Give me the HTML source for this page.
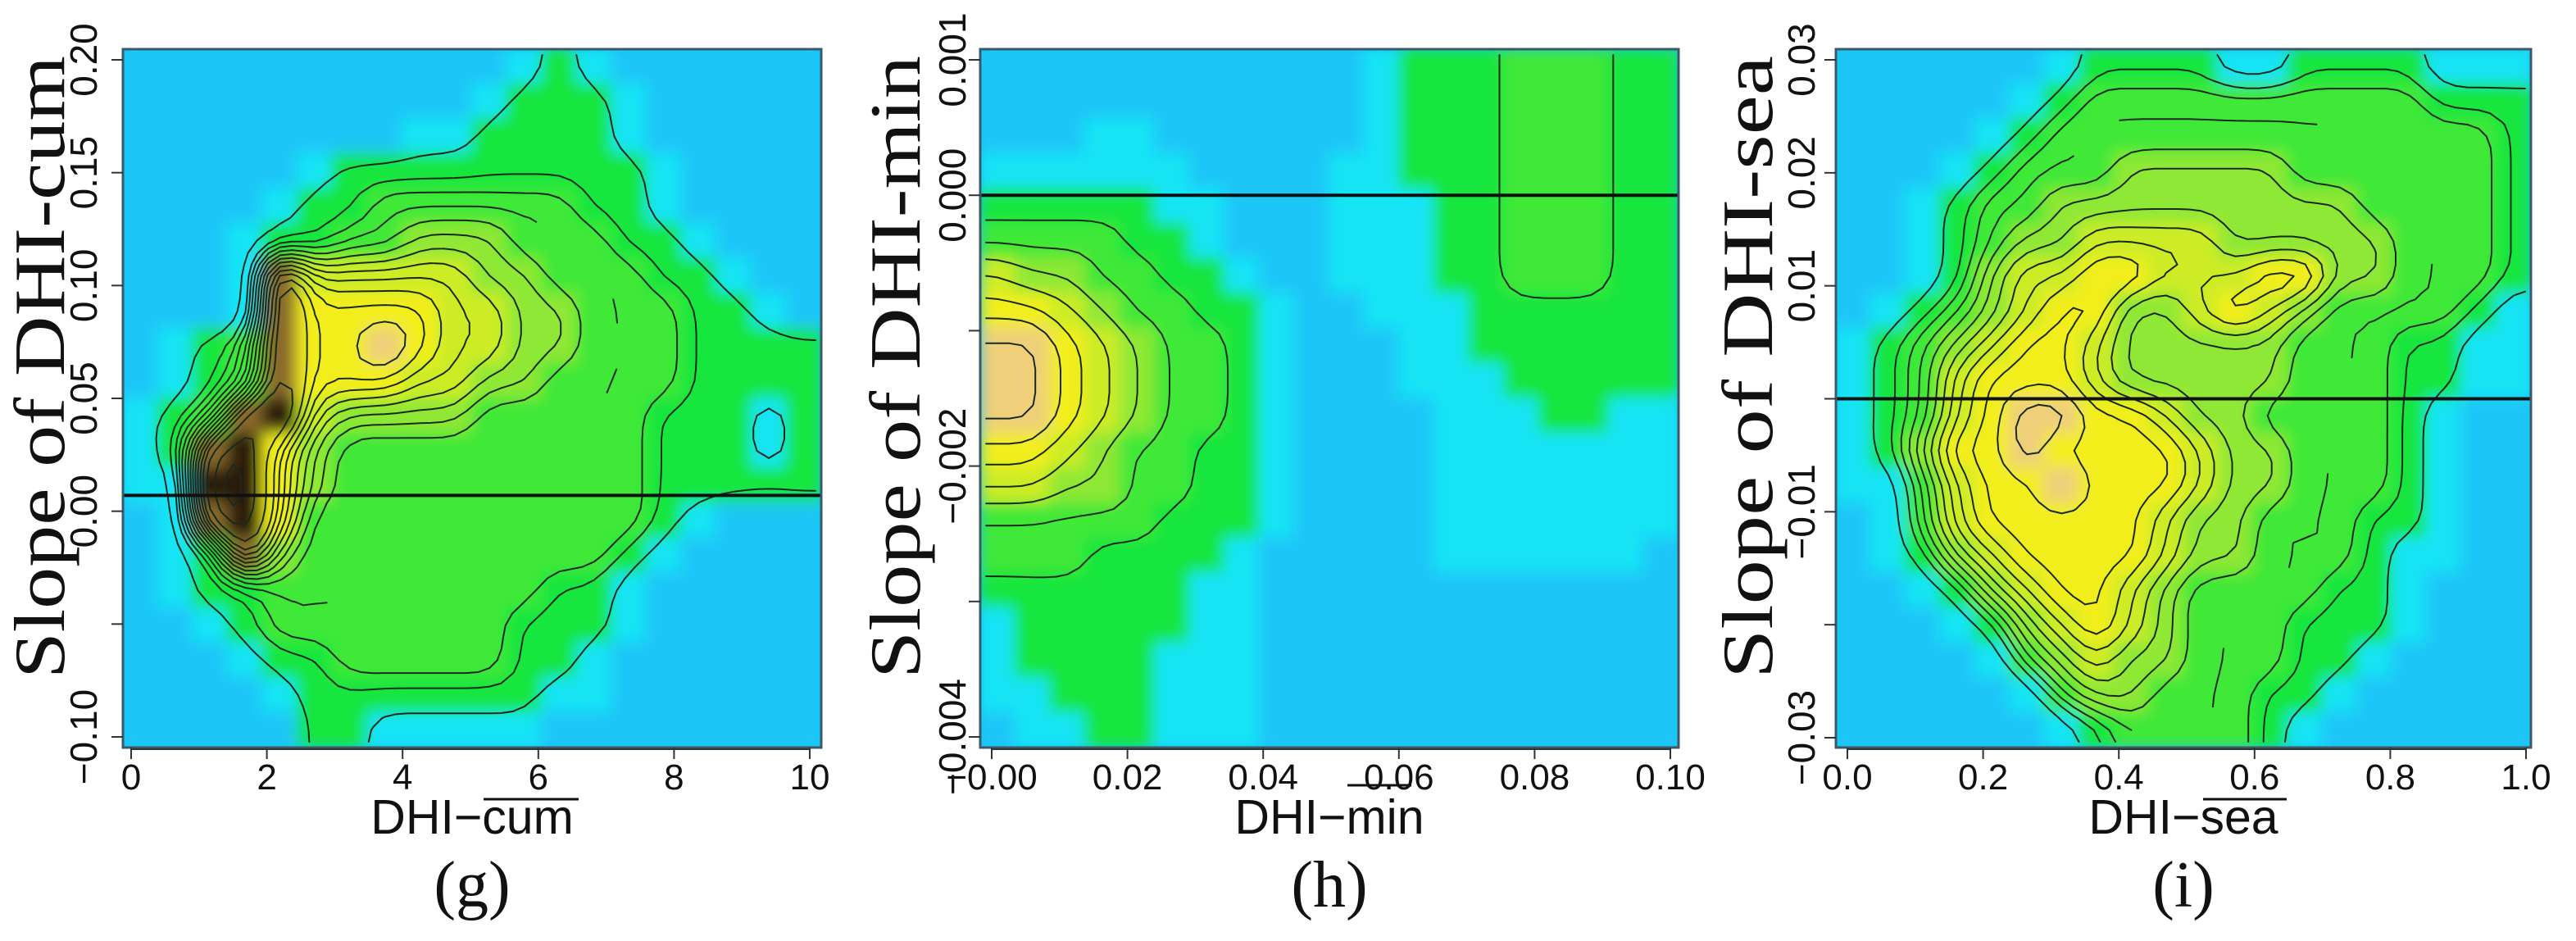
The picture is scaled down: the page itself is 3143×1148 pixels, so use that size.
<!DOCTYPE html>
<html><head><meta charset="utf-8"><style>
html,body{margin:0;padding:0;background:#fff;}
svg{display:block;}
</style></head><body>
<svg id="fig" width="3143" height="1148" viewBox="0 0 3143 1148" xmlns="http://www.w3.org/2000/svg">
<defs>
<filter id="blur" x="-5%" y="-5%" width="110%" height="110%"><feGaussianBlur stdDeviation="9"/></filter>
</defs>
</svg>
<script>
// ---------- data ----------
const palette = ['#1ac6f7','#14e4f5','#14e63c','#3fe838','#8fe836','#cdec28','#f2ee1c','#efcf7a','#8a6a2a','#2a1a08'];

// panel g: density class per cell, rows top->bottom
const gridG = [
"00000000000121000000",
"00000000001222100000",
"00000000112222100000",
"00000122222222210000",
"00001223333332210000",
"00012233444333221000",
"00018555554433322100",
"00018666655443332210",
"01238667655443332222",
"01238666554433332222",
"12389544443333322212",
"12896433333333322212",
"11996433333333322222",
"01896333333333321000",
"01284333333333210000",
"01223333333322100000",
"00123333333222100000",
"00012233333221000000",
"00001222222211000000",
"00000221111100000000"];
const xTicksG = [0,2,4,6,8,10];
const xTickLabelsG = ['0','2','4','6','8','10'];
const yTicksG = [0.20,0.15,0.10,0.05,0.00,-0.05,-0.10];
const yTickLabelsG = ['0.20','0.15','0.10','0.05','0.00','','\u22120.10'];
const levelsG = [1.5,2.2,2.6,3.0,3.4,3.8,4.2,4.6,5.0,5.4,5.8,6.2,6.6,7.2,8.0,8.6];

// panel h
const gridH = [
"00000000000122233322",
"00000000000122233322",
"00011000000122233322",
"11111100001122233322",
"22222110001112233322",
"33332210001112233322",
"54433221001112233322",
"66543322100111222222",
"77654332100011222222",
"77654332100011122222",
"77654332100001112211",
"66543322100001111111",
"55443322100001111111",
"33333222100001111111",
"33322221000001111110",
"22222211000000000000",
"12222211000000000000",
"12222111000000000000",
"11222111000000000000",
"01122111000000000000"];
const xTicksH = [0,0.02,0.04,0.06,0.08,0.10];
const xTickLabelsH = ['\u22120.00','0.02','0.04','0.06','0.08','0.10'];
const yTicksH = [0.001,0.000,-0.001,-0.002,-0.003,-0.004];
const yTickLabelsH = ['0.001','0.000','','\u22120.002','','\u22120.004'];
const levelsH = [2.4,3.2,4.0,4.8,5.6,6.2,6.8,7.2];

// panel i
const gridI = [
"00000012222112222111",
"00000123333333333222",
"00001233333333333332",
"00012333444443333332",
"00123344444444433332",
"00123445555444443332",
"00124556655566443332",
"01234566445654333321",
"12345665444443332211",
"12356665444443332211",
"12356776654433332100",
"12466766665443332100",
"11356676665443332100",
"01356666654433322100",
"01245666654433321100",
"00124566543333221000",
"00012456543332221000",
"00001345443332210000",
"00000134433322100000",
"00000012333321000000"];
const xTicksI = [0,0.2,0.4,0.6,0.8,1.0];
const xTickLabelsI = ['0.0','0.2','0.4','0.6','0.8','1.0'];
const yTicksI = [0.03,0.02,0.01,0,-0.01,-0.02,-0.03];
const yTickLabelsI = ['0.03','0.02','0.01','','\u22120.01','','\u22120.03'];
const levelsI = [1.6,2.2,2.6,3.0,3.4,3.8,4.2,4.6,5.0,5.4,5.8,6.2,6.6];

const zeroLines = [0.007, 0.000, 0];

// ---------- drawing ----------
const NS = 'http://www.w3.org/2000/svg';
const svg = document.getElementById('fig');
function mk(tag, attrs, parent){
  const e = document.createElementNS(NS, tag);
  for (const k in attrs) e.setAttribute(k, attrs[k]);
  (parent||svg).appendChild(e);
  return e;
}
const panels = [
 {id:'g', grid:gridG, levels:levelsG, xt:xTicksG, xl:xTickLabelsG, yt:yTicksG, yl:yTickLabelsG, zero:zeroLines[0],
  left:150, right:1002, x0:[0,160], x1:[10,988], y0:[0.20,73], y1:[-0.10,899],
  ytitle:'Slope of DHI-cum', xtitle:'DHI\u2212cum', tag:'(g)', titleX:78, tickX:118},
 {id:'h', grid:gridH, levels:levelsH, xt:xTicksH, xl:xTickLabelsH, yt:yTicksH, yl:yTickLabelsH, zero:zeroLines[1],
  left:1196, right:2048, x0:[0,1210], x1:[0.10,2038], y0:[0.001,73], y1:[-0.004,899],
  ytitle:'Slope of DHI-min', xtitle:'DHI\u2212min', tag:'(h)', titleX:1122, tickX:1178},
 {id:'i', grid:gridI, levels:levelsI, xt:xTicksI, xl:xTickLabelsI, yt:yTicksI, yl:yTickLabelsI, zero:zeroLines[2],
  left:2240, right:3088, x0:[0,2254], x1:[1.0,3082], y0:[0.03,73], y1:[-0.03,900],
  ytitle:'Slope of DHI-sea', xtitle:'DHI\u2212sea', tag:'(i)', titleX:2162, tickX:2214}
];
const TOP = 60, BOTTOM = 912;

function smoothField(grid){
  const nr = grid.length, nc = grid[0].length, U = 3;
  const R = nr*U, C = nc*U;
  let f = [];
  for (let i = 0; i < R; i++) {
    const row = [];
    const gy = Math.min(Math.max((i+0.5)/U - 0.5, 0), nr-1);
    const r0 = Math.floor(gy), r1 = Math.min(r0+1, nr-1), ty = gy - r0;
    for (let j = 0; j < C; j++) {
      const gx = Math.min(Math.max((j+0.5)/U - 0.5, 0), nc-1);
      const c0 = Math.floor(gx), c1 = Math.min(c0+1, nc-1), tx = gx - c0;
      const v00 = +grid[r0][c0], v01 = +grid[r0][c1], v10 = +grid[r1][c0], v11 = +grid[r1][c1];
      row.push((v00*(1-tx)+v01*tx)*(1-ty) + (v10*(1-tx)+v11*tx)*ty);
    }
    f.push(row);
  }
  for (let pass = 0; pass < 2; pass++) {
    const g2 = [];
    for (let i = 0; i < R; i++) { const row = [];
      for (let j = 0; j < C; j++) { let s = 0, n = 0;
        for (let di = -1; di <= 1; di++) for (let dj = -1; dj <= 1; dj++) {
          const a = i+di, b = j+dj; if (a>=0 && a<R && b>=0 && b<C) { s += f[a][b]; n++; } }
        row.push(s/n); }
      g2.push(row); }
    f = g2;
  }
  return f;
}

panels.forEach(p => {
  const xs = v => p.x0[1] + (v - p.x0[0]) * (p.x1[1]-p.x0[1]) / (p.x1[0]-p.x0[0]);
  const ys = v => p.y0[1] + (v - p.y0[0]) * (p.y1[1]-p.y0[1]) / (p.y1[0]-p.y0[0]);
  const xinv = px => p.x0[0] + (px - p.x0[1]) * (p.x1[0]-p.x0[0]) / (p.x1[1]-p.x0[1]);
  const yinv = py => p.y0[0] + (py - p.y0[1]) * (p.y1[0]-p.y0[0]) / (p.y1[1]-p.y0[1]);
  const xmin = xinv(p.left), xmax = xinv(p.right), ymax = yinv(TOP), ymin = yinv(BOTTOM);

  const g = mk('g', {});
  
  

  const clipId = 'clip-' + p.id;
  const cp = mk('clipPath', {id: clipId}, svg.querySelector('defs'));
  mk('rect', {x:p.left, y:TOP, width:p.right-p.left, height:BOTTOM-TOP}, cp);

  const hm = mk('g', {'clip-path':'url(#'+clipId+')'}, g);
  
  
  mk('rect', {x:p.left, y:TOP, width:p.right-p.left, height:BOTTOM-TOP, fill:palette[0]}, hm);
  const inner = mk('g', {filter:'url(#blur)'}, hm);
  const nr = p.grid.length, nc = p.grid[0].length;
  for (let r = 0; r < nr; r++) {
    for (let c = 0; c < nc; c++) {
      const v = +p.grid[r][c];
      const xa = xmin + c*(xmax-xmin)/nc, xb = xmin + (c+1)*(xmax-xmin)/nc;
      const ya = ymax - r*(ymax-ymin)/nr, yb = ymax - (r+1)*(ymax-ymin)/nr;
      const cell = mk('rect', {x:xs(xa)-1, y:ys(ya)-1, width:xs(xb)-xs(xa)+2, height:ys(yb)-ys(ya)+2, fill:palette[v]}, inner);
      
      
    }
  }

  // contour lines via marching squares over smoothed field
  const f = smoothField(p.grid);
  const R = f.length, C = f[0].length;
  const px = j => xs(xmin + (j+0.5)*(xmax-xmin)/C);
  const py = i => ys(ymax - (i+0.5)*(ymax-ymin)/R);
  p.levels.forEach(L => {
    let d = '';
    for (let i = 0; i < R-1; i++) for (let j = 0; j < C-1; j++) {
      const a = f[i][j], b = f[i][j+1], c = f[i+1][j+1], e = f[i+1][j];
      const pts = [];
      if ((a-L)*(b-L) < 0) { const t = (L-a)/(b-a); pts.push([px(j)+t*(px(j+1)-px(j)), py(i)]); }
      if ((b-L)*(c-L) < 0) { const t = (L-b)/(c-b); pts.push([px(j+1), py(i)+t*(py(i+1)-py(i))]); }
      if ((e-L)*(c-L) < 0) { const t = (L-e)/(c-e); pts.push([px(j)+t*(px(j+1)-px(j)), py(i+1)]); }
      if ((a-L)*(e-L) < 0) { const t = (L-a)/(e-a); pts.push([px(j), py(i)+t*(py(i+1)-py(i))]); }
      for (let k = 0; k+1 < pts.length; k += 2)
        d += 'M'+pts[k][0].toFixed(1)+' '+pts[k][1].toFixed(1)+'L'+pts[k+1][0].toFixed(1)+' '+pts[k+1][1].toFixed(1);
    }
    if (d) {
      const cl = mk('path', {d:d, fill:'none', stroke:'#1a2a1a', 'stroke-width':2, 'stroke-linecap':'round'}, hm);
      
      
    }
  });

  // zero line
  const zl = mk('line', {x1:p.left, x2:p.right, y1:ys(p.zero), y2:ys(p.zero), stroke:'#111', 'stroke-width':4}, g);
  
  
  // box
  const box = mk('rect', {x:p.left, y:TOP, width:p.right-p.left, height:BOTTOM-TOP, fill:'none', stroke:'#3a5a6a', 'stroke-width':3}, g);
  
  

  // x axis
  const xa = mk('g', {}, g);
  
  
  mk('line', {x1:xs(p.xt[0]), x2:xs(p.xt[p.xt.length-1]), y1:BOTTOM+2, y2:BOTTOM+2, stroke:'#333', 'stroke-width':2}, xa);
  p.xt.forEach((v,i) => {
    mk('line', {x1:xs(v), x2:xs(v), y1:BOTTOM, y2:BOTTOM+14, stroke:'#333', 'stroke-width':2}, xa);
    const t = mk('text', {x:xs(v), y:963, 'text-anchor':'middle', 'font-family':'Liberation Sans, sans-serif', 'font-size':44, fill:'#111'}, xa);
    t.textContent = p.xl[i];
    
    
  });
  // y axis
  const ya = mk('g', {}, g);
  
  
  p.yt.forEach((v,i) => {
    mk('line', {x1:p.left-14, x2:p.left, y1:ys(v), y2:ys(v), stroke:'#333', 'stroke-width':2}, ya);
    if (p.yl[i]) {
      const t = mk('text', {x:0, y:0, transform:'translate('+p.tickX+','+ys(v)+') rotate(-90)', 'text-anchor':'middle', 'font-family':'Liberation Sans, sans-serif', 'font-size':46, fill:'#111'}, ya);
      t.textContent = p.yl[i];
      
      
    }
  });
  // titles
  const cx = (p.left + p.right)/2;
  const yt = mk('text', {x:0, y:0, transform:'translate('+p.titleX+',448) rotate(-90)', 'text-anchor':'middle', 'font-family':'Liberation Serif, serif', 'font-size':88, textLength:760, lengthAdjust:'spacingAndGlyphs', fill:'#111'}, g);
  yt.textContent = p.ytitle;
  
  
  const xt = mk('text', {x:cx, y:1017, 'text-anchor':'middle', 'font-family':'Liberation Sans, sans-serif', 'font-size':59, fill:'#111'}, g);
  xt.textContent = p.xtitle;
  
  
  const tg = mk('text', {x:cx, y:1106, 'text-anchor':'middle', 'font-family':'Liberation Serif, serif', 'font-size':80, fill:'#111'}, g);
  tg.textContent = p.tag;
  
  
});
// overlines for cum / sea and the stray line under 0.06
[[590,706,975],[2688,2790,975],[1644,1722,958]].forEach(a=>{
  const l = mk('line',{x1:a[0],x2:a[1],y1:a[2],y2:a[2],stroke:'#111','stroke-width':3});
  
  
});
</script>
</body></html>
